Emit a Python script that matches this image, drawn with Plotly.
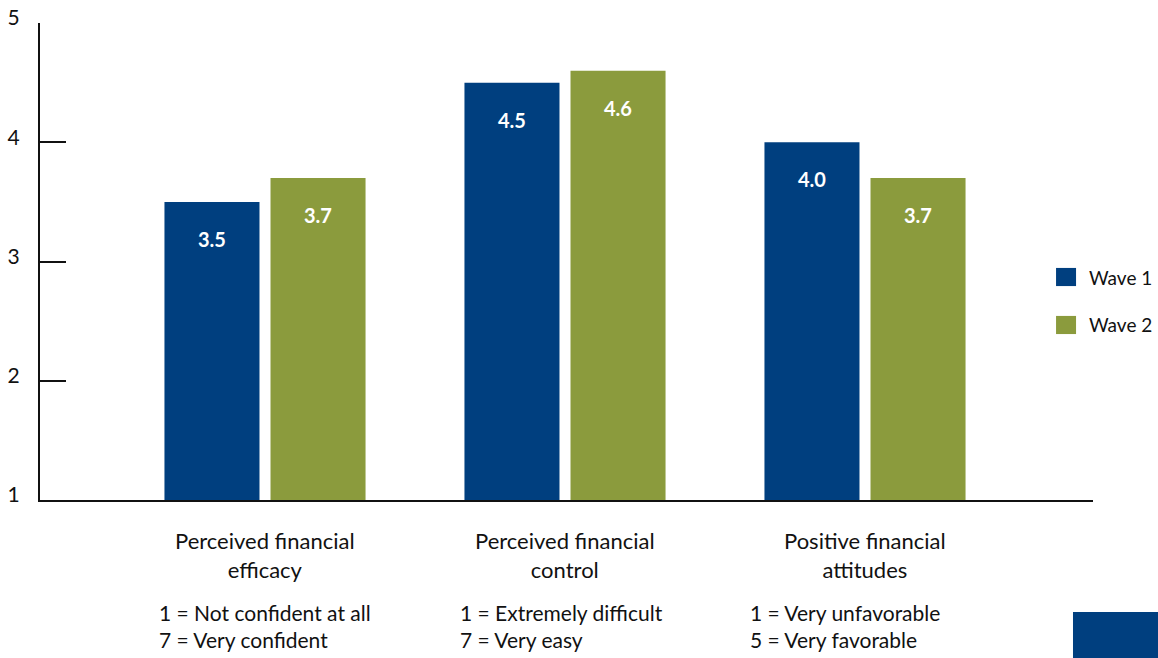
import plotly.graph_objects as go

# Data
categories = ["Perceived financial<br>efficacy",
              "Perceived financial<br>control",
              "Positive financial<br>attitudes"]
scale_notes = ["1 = Not confident at all<br>7 = Very confident",
               "1 = Extremely difficult<br>7 = Very easy",
               "1 = Very unfavorable<br>5 = Very favorable"]
series_names = ["Wave 1", "Wave 2"]
wave1 = [3.5, 4.5, 4.0]
wave2 = [3.7, 4.6, 3.7]
y_ticks = [1, 2, 3, 4, 5]

BLUE = "#003F7F"
GREEN = "#8B9B3D"
FONT = "Lato"

cat_idx = list(range(len(categories)))

fig = go.Figure()
for name, vals, col in zip(series_names, [wave1, wave2], [BLUE, GREEN]):
    fig.add_trace(go.Bar(x=cat_idx, y=[v - 1 for v in vals], base=1,
                         name=name, marker=dict(color=col, line_width=0),
                         showlegend=False, hoverinfo="skip"))

annotations = []
# value labels inside bars
for vals, xs in zip([wave1, wave2], [-53, 53]):
    for i, v in enumerate(vals):
        annotations.append(dict(x=i, y=v, xref="x", yref="y", text=f"<b>{v:.1f}</b>",
                                showarrow=False, yanchor="middle", xshift=xs, yshift=-37,
                                font=dict(family=FONT, size=20, color="white")))
# category titles and scale notes
note_shift = [0, -4, -20]
for i, (c, n) in enumerate(zip(categories, scale_notes)):
    annotations.append(dict(x=i, y=0, xref="x", yref="paper", text=c, showarrow=False,
                            yanchor="top", yshift=-25, align="center",
                            font=dict(family=FONT, size=22, color="#111")))
    annotations.append(dict(x=i, y=0, xref="x", yref="paper", text=n, showarrow=False,
                            yanchor="top", yshift=-98, xshift=note_shift[i], align="left",
                            font=dict(family=FONT, size=21, color="#111")))

# legend
shapes = []
leg_y = [0.4675, 0.3669]
for name, col, yc in zip(series_names, [BLUE, GREEN], leg_y):
    shapes.append(dict(type="rect", xref="paper", yref="paper", x0=0.9649, x1=0.9839,
                       y0=yc - 0.019, y1=yc + 0.019, fillcolor=col, line_width=0))
    annotations.append(dict(x=0.9943, y=yc, xref="paper", yref="paper", text=name,
                            showarrow=False, xanchor="left", yanchor="middle",
                            font=dict(family=FONT, size=19, color="#111")))
# corner block
shapes.append(dict(type="rect", xref="paper", yref="paper", x0=0.981, x1=1.07,
                   y0=-0.34, y1=-0.2348, fillcolor=BLUE, line_width=0))

fig.update_layout(
    width=1158, height=658,
    margin=dict(l=40, r=65, t=23, b=158),
    paper_bgcolor="white", plot_bgcolor="white",
    barmode="group", bargap=0.293, bargroupgap=0.104,
    annotations=annotations, shapes=shapes,
    xaxis=dict(range=[-0.75, 2.76], showticklabels=False, ticks="", showgrid=False,
               zeroline=False, showline=True, linecolor="#111", linewidth=2,
               automargin=False),
    yaxis=dict(range=[1, 5], tickvals=y_ticks, ticks="inside", ticklen=26, tickwidth=2,
               tickcolor="#111", showgrid=False, zeroline=False, showline=True,
               linecolor="#111", linewidth=2, ticklabelstandoff=14, ticklabelshift=-5,
               automargin=False,
               tickfont=dict(family=FONT, size=21, color="#111")),
)

fig.write_html("out.html")
